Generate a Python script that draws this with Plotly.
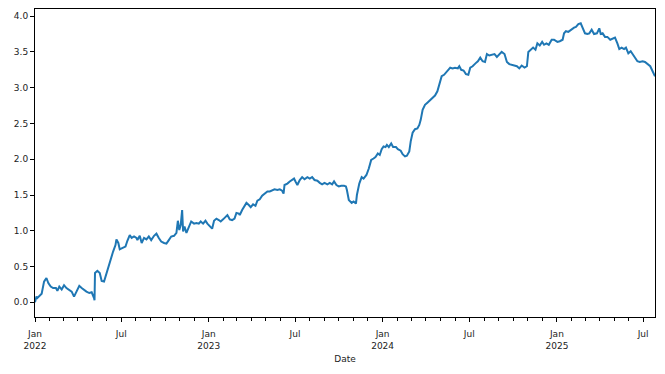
import plotly.graph_objects as go

dates = [
    "2022-01-01", "2022-01-04", "2022-01-06", "2022-01-10", "2022-01-15", "2022-01-20", "2022-01-25", "2022-01-29",
    "2022-02-03", "2022-02-08", "2022-02-14", "2022-02-17", "2022-02-21", "2022-02-26", "2022-03-03", "2022-03-08",
    "2022-03-14", "2022-03-19", "2022-03-24", "2022-03-29", "2022-04-04", "2022-04-09", "2022-04-14", "2022-04-19",
    "2022-04-25", "2022-04-30", "2022-05-05", "2022-05-06", "2022-05-07", "2022-05-12", "2022-05-17", "2022-05-21",
    "2022-05-26", "2022-05-31", "2022-06-04", "2022-06-09", "2022-06-14", "2022-06-19", "2022-06-21", "2022-06-25",
    "2022-06-28", "2022-07-04", "2022-07-10", "2022-07-14", "2022-07-19", "2022-07-23", "2022-07-28", "2022-08-02",
    "2022-08-04", "2022-08-09", "2022-08-13", "2022-08-18", "2022-08-23", "2022-08-28", "2022-09-02", "2022-09-08",
    "2022-09-13", "2022-09-18", "2022-09-23", "2022-09-29", "2022-10-04", "2022-10-09", "2022-10-14", "2022-10-20",
    "2022-10-25", "2022-10-28", "2022-10-31", "2022-11-03", "2022-11-06", "2022-11-08", "2022-11-11", "2022-11-15",
    "2022-11-18", "2022-11-22", "2022-11-25", "2022-12-01", "2022-12-06", "2022-12-11", "2022-12-15", "2022-12-20",
    "2022-12-25", "2022-12-29", "2023-01-03", "2023-01-08", "2023-01-12", "2023-01-17", "2023-01-22", "2023-01-26",
    "2023-01-31", "2023-02-05", "2023-02-09", "2023-02-14", "2023-02-19", "2023-02-24", "2023-02-28", "2023-03-05",
    "2023-03-07", "2023-03-12", "2023-03-16", "2023-03-21", "2023-03-26", "2023-03-30", "2023-04-04", "2023-04-09",
    "2023-04-13", "2023-04-18", "2023-04-23", "2023-04-28", "2023-05-04", "2023-05-09", "2023-05-14", "2023-05-19",
    "2023-05-25", "2023-05-30", "2023-06-04", "2023-06-07", "2023-06-09", "2023-06-15", "2023-06-20", "2023-06-25",
    "2023-06-29", "2023-07-02", "2023-07-06", "2023-07-11", "2023-07-16", "2023-07-21", "2023-07-27", "2023-08-01",
    "2023-08-06", "2023-08-11", "2023-08-17", "2023-08-22", "2023-08-27", "2023-09-01", "2023-09-07", "2023-09-12",
    "2023-09-17", "2023-09-21", "2023-09-26", "2023-10-01", "2023-10-06", "2023-10-12", "2023-10-16", "2023-10-18",
    "2023-10-22", "2023-10-28", "2023-11-01", "2023-11-06", "2023-11-08", "2023-11-13", "2023-11-18", "2023-11-22",
    "2023-11-28", "2023-12-03", "2023-12-08", "2023-12-13", "2023-12-17", "2023-12-22", "2023-12-26", "2023-12-30",
    "2024-01-03", "2024-01-07", "2024-01-10", "2024-01-14", "2024-01-19", "2024-01-23", "2024-01-29", "2024-02-02",
    "2024-02-08", "2024-02-12", "2024-02-17", "2024-02-21", "2024-02-26", "2024-02-29", "2024-03-04", "2024-03-09",
    "2024-03-14", "2024-03-18", "2024-03-21", "2024-03-25", "2024-03-30", "2024-04-04", "2024-04-09", "2024-04-15",
    "2024-04-20", "2024-04-25", "2024-04-29", "2024-05-04", "2024-05-09", "2024-05-15", "2024-05-20", "2024-05-22",
    "2024-05-27", "2024-06-01", "2024-06-07", "2024-06-10", "2024-06-14", "2024-06-19", "2024-06-24", "2024-06-29",
    "2024-07-03", "2024-07-08", "2024-07-14", "2024-07-19", "2024-07-24", "2024-07-29", "2024-08-03", "2024-08-07",
    "2024-08-12", "2024-08-17", "2024-08-23", "2024-08-28", "2024-09-02", "2024-09-07", "2024-09-13", "2024-09-18",
    "2024-09-23", "2024-09-28", "2024-10-04", "2024-10-09", "2024-10-14", "2024-10-19", "2024-10-25", "2024-10-30",
    "2024-11-02", "2024-11-07", "2024-11-12", "2024-11-17", "2024-11-21", "2024-11-26", "2024-12-01", "2024-12-05",
    "2024-12-10", "2024-12-15", "2024-12-21", "2024-12-26", "2025-01-02", "2025-01-07", "2025-01-13", "2025-01-16",
    "2025-01-20", "2025-01-25", "2025-01-30", "2025-02-03", "2025-02-06", "2025-02-10", "2025-02-15", "2025-02-20",
    "2025-02-24", "2025-03-01", "2025-03-06", "2025-03-10", "2025-03-15", "2025-03-20", "2025-03-26", "2025-03-31",
    "2025-04-03", "2025-04-07", "2025-04-12", "2025-04-17", "2025-04-23", "2025-04-28", "2025-05-03", "2025-05-08",
    "2025-05-12", "2025-05-17", "2025-05-22", "2025-05-26", "2025-05-31", "2025-06-05", "2025-06-09", "2025-06-14",
    "2025-06-19", "2025-06-24", "2025-06-30", "2025-07-05", "2025-07-10", "2025-07-16", "2025-07-21", "2025-07-26",
]

values = [
    0.00, 0.08, 0.06, 0.09, 0.12, 0.29, 0.34, 0.27,
    0.22, 0.20, 0.20, 0.16, 0.22, 0.18, 0.24, 0.20,
    0.17, 0.15, 0.08, 0.15, 0.23, 0.20, 0.17, 0.15,
    0.13, 0.14, 0.06, 0.03, 0.41, 0.44, 0.41, 0.30,
    0.29, 0.41, 0.50, 0.62, 0.71, 0.80, 0.88, 0.83,
    0.74, 0.76, 0.78, 0.86, 0.94, 0.90, 0.92, 0.90,
    0.87, 0.93, 0.83, 0.90, 0.88, 0.92, 0.87, 0.93,
    0.96, 0.90, 0.85, 0.83, 0.82, 0.87, 0.92, 0.93,
    0.97, 1.14, 1.01, 1.08, 1.29, 0.99, 1.06, 0.97,
    1.02, 1.06, 1.13, 1.10, 1.11, 1.10, 1.13, 1.10,
    1.14, 1.10, 1.07, 1.03, 1.14, 1.17, 1.15, 1.13,
    1.16, 1.20, 1.22, 1.16, 1.15, 1.17, 1.25, 1.24,
    1.22, 1.29, 1.34, 1.39, 1.36, 1.33, 1.37, 1.35,
    1.42, 1.44, 1.49, 1.52, 1.55, 1.55, 1.56, 1.58,
    1.57, 1.58, 1.56, 1.52, 1.64, 1.66, 1.69, 1.71,
    1.73, 1.69, 1.64, 1.71, 1.75, 1.72, 1.75, 1.73,
    1.75, 1.71, 1.70, 1.67, 1.65, 1.67, 1.65, 1.67,
    1.65, 1.69, 1.64, 1.62, 1.63, 1.63, 1.62, 1.57,
    1.43, 1.39, 1.41, 1.38, 1.50, 1.66, 1.75, 1.73,
    1.78, 1.87, 1.99, 2.01, 2.03, 2.08, 2.06, 2.14,
    2.18, 2.17, 2.20, 2.17, 2.22, 2.17, 2.17, 2.14,
    2.12, 2.07, 2.04, 2.05, 2.11, 2.25, 2.37, 2.42,
    2.43, 2.48, 2.55, 2.69, 2.76, 2.79, 2.82, 2.87,
    2.89, 2.95, 3.05, 3.16, 3.18, 3.23, 3.26, 3.28,
    3.27, 3.28, 3.27, 3.30, 3.25, 3.24, 3.19, 3.18,
    3.28, 3.30, 3.34, 3.37, 3.42, 3.37, 3.36, 3.47,
    3.45, 3.46, 3.47, 3.43, 3.47, 3.50, 3.47, 3.36,
    3.33, 3.32, 3.31, 3.30, 3.27, 3.31, 3.28, 3.30,
    3.50, 3.53, 3.56, 3.53, 3.62, 3.59, 3.64, 3.60,
    3.62, 3.60, 3.67, 3.67, 3.64, 3.65, 3.67, 3.76,
    3.79, 3.78, 3.81, 3.82, 3.84, 3.85, 3.89, 3.90,
    3.83, 3.76, 3.75, 3.76, 3.81, 3.75, 3.76, 3.83,
    3.75, 3.76, 3.71, 3.71, 3.67, 3.68, 3.70, 3.62,
    3.54, 3.56, 3.54, 3.56, 3.48, 3.51, 3.47, 3.43,
    3.37, 3.36, 3.37, 3.36, 3.33, 3.30, 3.23, 3.16,
]

x_tick_vals = ["2022-01-01", "2022-07-01", "2023-01-01", "2023-07-01",
               "2024-01-01", "2024-07-01", "2025-01-01", "2025-07-01"]
x_tick_text = ["Jan<br>2022", "Jul", "Jan<br>2023", "Jul",
               "Jan<br>2024", "Jul", "Jan<br>2025", "Jul"]
y_tick_vals = [0.0, 0.5, 1.0, 1.5, 2.0, 2.5, 3.0, 3.5, 4.0]
x_title = "Date"

fig = go.Figure()
fig.add_trace(go.Scatter(
    x=dates, y=values, mode="lines",
    line=dict(color="#1f77b4", width=2.0),
    showlegend=False,
))

font = dict(family="DejaVu Sans", size=9, color="#222222")

fig.update_layout(
    template="none",
    width=665, height=374,
    margin=dict(l=35, r=10, t=9, b=57, autoexpand=False),
    paper_bgcolor="white", plot_bgcolor="white",
    font=font,
    xaxis=dict(
        type="date", automargin=False,
        range=[dates[0], dates[-1]],
        tickmode="array", tickvals=x_tick_vals, ticktext=x_tick_text,
        ticks="outside", ticklen=4, tickwidth=1, tickcolor="black",
        ticklabelstandoff=4,
        showline=True, linecolor="black", linewidth=1, mirror=True,
        showgrid=False, zeroline=False,
        minor=dict(dtick="M1", tick0="2022-01-01", ticks="outside",
                   ticklen=2.5, tickwidth=1, tickcolor="black", showgrid=False),
        title=dict(text=x_title, font=font, standoff=6),
        tickfont=font,
    ),
    yaxis=dict(
        automargin=False,
        range=[-0.205, 4.10],
        tickmode="array", tickvals=y_tick_vals,
        tickformat=".1f",
        ticks="outside", ticklen=4, tickwidth=1, tickcolor="black",
        showline=True, linecolor="black", linewidth=1, mirror=True,
        showgrid=False, zeroline=False,
        tickfont=font,
    ),
)

fig.write_html("out.html", config={"displayModeBar": False},
               post_script="document.body.style.margin='0';")
